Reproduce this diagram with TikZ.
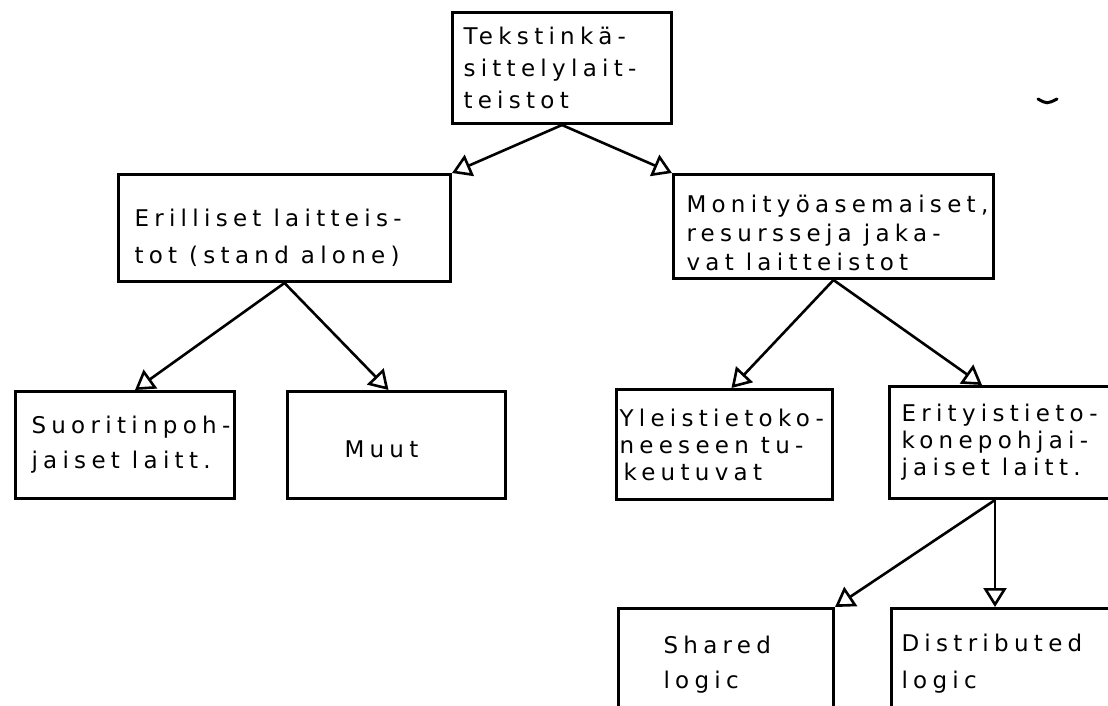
\documentclass[tikz,border=0pt]{standalone}
\usepackage{fontspec}
\newfontfamily\boxfont{DejaVu Sans}[LetterSpace=23]
\usetikzlibrary{arrows.meta, positioning}
\hyphenpenalty=10000
\exhyphenpenalty=10000
\newcommand\boxsize[1]{\boxfont\fontsize{23}{#1}\selectfont}
\newcommand\wsp{\hspace{12pt}}

\begin{document}
\begin{tikzpicture}[x=1pt, y=-1pt,
  box/.style={draw, line width=3pt, rectangle, anchor=north west, align=left,
              inner xsep=11pt, inner ysep=0pt, font=\boxsize{32}},
  tight/.style={font=\boxsize{27}},
  link/.style={line width=2.6pt, -{Triangle[open, length=19pt, width=23pt, line width=2.6pt]}},
]
  \useasboundingbox (0,0) rectangle (1108,706);
  \clip (0,0) rectangle (1108,706);

  \node[box, minimum width=219pt, minimum height=111pt, text width=197pt]
    (tekst) at (451,11) {Tekstinkä-\\sittelylait-\\teistot};

  \node[box, minimum width=332pt, minimum height=107pt, inner xsep=16pt, text width=300pt,
        font=\boxsize{37}]
    (erill) at (117,173) {\rule{0pt}{37.5pt}Erilliset\wsp laitteis-\\tot\wsp(stand\wsp alone)};
  \node[box, minimum width=320pt, minimum height=104pt, inner xsep=13pt, text width=294pt,
        font=\boxsize{29}]
    (moni) at (672,173) {\rule{0pt}{30pt}Monityöasemaiset,\\resursseja\wsp jaka-\\vat\wsp laitteistot};

  \node[box, minimum width=219pt, minimum height=107pt, inner xsep=16pt, text width=187pt,
        font=\boxsize{35}]
    (suor) at (14,390) {Suoritinpoh-\\jaiset\wsp laitt.};
  \node[box, minimum width=218pt, minimum height=107pt, inner xsep=57pt, text width=104pt]
    (muut) at (286,390) {\rule{0pt}{25.5pt}Muut};
  \node[box, tight, minimum width=216pt, minimum height=110pt, inner xsep=3pt, text width=210pt]
    (yleis) at (615,388) {Yleistietoko-\\neeseen\wsp tu-\\\hspace{4pt}keutuvat};
  \node[box, tight, minimum width=239pt, minimum height=112pt, inner xsep=12pt, text width=215pt]
    (erit) at (888,385) {Erityistieto-\\konepohjai-\\jaiset\wsp laitt.};

  \node[box, minimum width=215pt, minimum height=106pt, inner xsep=45pt, text width=125pt,
        font=\boxsize{35}]
    (shared) at (617,607) {\rule{0pt}{23pt}Shared\\logic};
  \node[box, minimum width=230pt, minimum height=106pt, inner xsep=10pt, text width=210pt,
        font=\boxsize{37}]
    (distr) at (890,607) {\rule{0pt}{21pt}Distributed\\logic};

  % Arrows
  \draw[link] (tekst.south) -- (erill.north east);
  \draw[link] (tekst.south) -- (moni.north west);
  \draw[link] (erill.south) -- ([xshift=10pt]suor.north);
  \draw[link] (erill.south) -- ([xshift=-8pt]muut.north);
  \draw[link] (moni.south) -- ([xshift=7pt]yleis.north);
  \draw[link] (moni.south) -- ([xshift=94pt]erit.north west);
  \draw[link] ([xshift=107pt]erit.south west) -- (shared.north east);
  \draw[link] ([xshift=107pt]erit.south west) -- ([xshift=105pt]distr.north west);

  \draw[line width=3pt, line cap=round] (1038,99) .. controls (1047,104) .. (1057,99);
\end{tikzpicture}
\end{document}
